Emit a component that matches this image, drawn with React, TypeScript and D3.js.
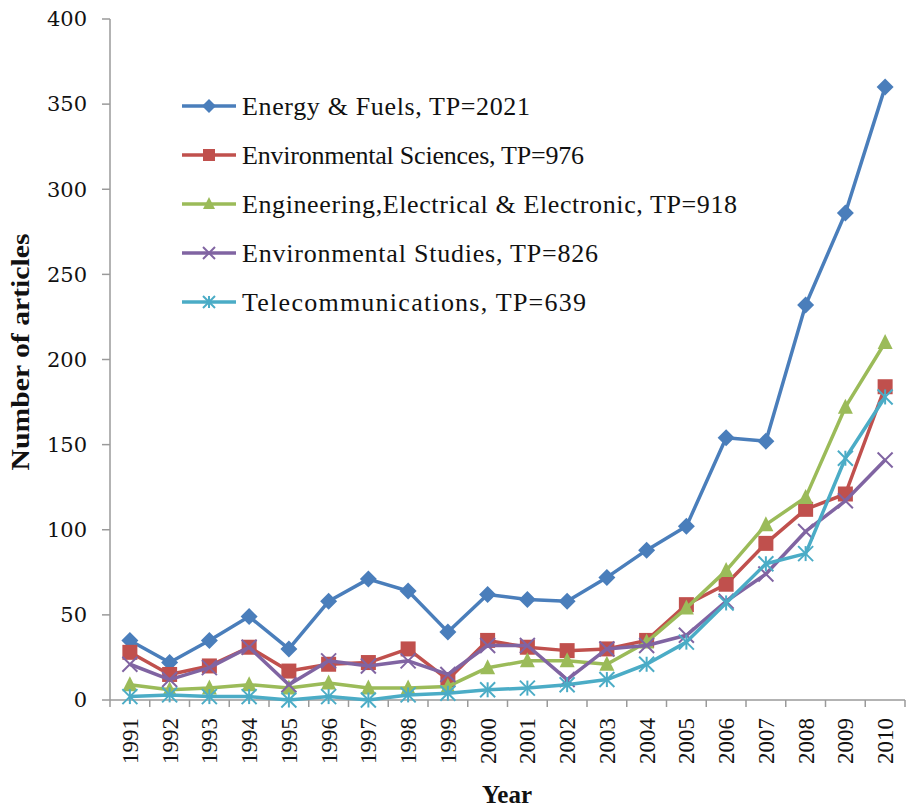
import React from "react";
import * as d3 from "d3";

const years = ["1991","1992","1993","1994","1995","1996","1997","1998","1999","2000","2001","2002","2003","2004","2005","2006","2007","2008","2009","2010"];
const energy = [35,22,35,49,30,58,71,64,40,62,59,58,72,88,102,154,152,232,286,360];
const envSci = [28,15,20,31,17,21,22,30,12,35,31,29,30,35,56,68,92,112,121,184];
const engElec = [9,6,7,9,7,10,7,7,8,19,23,23,21,34,54,76,103,119,172,210];
const envStud = [21,12,19,31,9,23,20,23,15,32,32,12,30,32,38,58,74,99,117,141];
const telecom = [2,3,2,2,0,2,0,3,4,6,7,9,12,21,34,57,80,86,142,178];
const seriesNames = [
  "Energy & Fuels, TP=2021",
  "Environmental Sciences, TP=976",
  "Engineering,Electrical & Electronic, TP=918",
  "Environmental Studies, TP=826",
  "Telecommunications, TP=639",
];
const yTicks = [0,50,100,150,200,250,300,350,400];

const colors = ["#4A7EBB", "#C0504D", "#9BBB59", "#8064A2", "#4BACC6"];
const markers = ["diamond", "square", "triangle", "x", "asterisk"];
const legendWidths = [288, 342, 495, 356, 344];

function Marker({ type, x, y, color, s = 7.5 }: { type: string; x: number; y: number; color: string; s?: number }) {
  if (type === "diamond") {
    return <path d={`M${x},${y - s - 1}L${x + s + 1},${y}L${x},${y + s + 1}L${x - s - 1},${y}Z`} fill={color} />;
  }
  if (type === "square") {
    return <rect x={x - s} y={y - s} width={2 * s} height={2 * s} fill={color} />;
  }
  if (type === "triangle") {
    return <path d={`M${x},${y - s - 1}L${x + s},${y + s - 1}L${x - s},${y + s - 1}Z`} fill={color} />;
  }
  if (type === "x") {
    return (
      <g stroke={color} strokeWidth={2}>
        <line x1={x - s} y1={y - s} x2={x + s} y2={y + s} />
        <line x1={x - s} y1={y + s} x2={x + s} y2={y - s} />
      </g>
    );
  }
  return (
    <g stroke={color} strokeWidth={2}>
      <line x1={x - s} y1={y - s} x2={x + s} y2={y + s} />
      <line x1={x - s} y1={y + s} x2={x + s} y2={y - s} />
      <line x1={x} y1={y - s} x2={x} y2={y + s} />
    </g>
  );
}

export default function App() {
  const W = 912, H = 808;
  const left = 110, right = 905, top = 19, bottom = 700;
  const x = d3.scaleBand<string>().domain(years).range([left, right]);
  const y = d3.scaleLinear().domain([0, 400]).range([bottom, top]);
  const cx = (yr: string) => (x(yr) as number) + x.bandwidth() / 2;
  const data = [energy, envSci, engElec, envStud, telecom];
  const line = d3.line<number>().x((_, i) => cx(years[i])).y((d) => y(d));
  const serif = "'Liberation Serif', 'Times New Roman', serif";
  const bands = years.map((yr) => x(yr) as number).concat([right]);

  return (
    <svg width={W} height={H} style={{ position: "absolute", left: 0, top: 0, background: "#fff" }}>
      <rect width={W} height={H} fill="#fff" />
      <line x1={left} y1={top} x2={left} y2={bottom} stroke="#9a9a9a" strokeWidth={1.5} />
      <line x1={left} y1={bottom} x2={right} y2={bottom} stroke="#9a9a9a" strokeWidth={1.5} />
      {yTicks.map((t) => (
        <g key={t}>
          <line x1={left - 8} x2={left} y1={y(t)} y2={y(t)} stroke="#9a9a9a" strokeWidth={1.5} />
          <text x={87} y={y(t)} dy="0.35em" textAnchor="end" fontFamily="'DejaVu Serif', serif" fontSize={21} fill="#111">
            {t}
          </text>
        </g>
      ))}
      {bands.map((b, i) => (
        <line key={i} x1={b} x2={b} y1={bottom} y2={bottom + 7} stroke="#9a9a9a" strokeWidth={1.5} />
      ))}
      {years.map((yr) => (
        <text
          key={yr}
          transform={`translate(${cx(yr) + 8},${718}) rotate(-90)`}
          textAnchor="end"
          fontFamily={serif}
          fontSize={23}
          fill="#111"
        >
          {yr}
        </text>
      ))}
      <text x={507} y={803} textAnchor="middle" fontFamily={serif} fontWeight="bold" fontSize={25} fill="#111">
        Year
      </text>
      <text
        transform={`translate(29,352) rotate(-90)`}
        textAnchor="middle"
        fontFamily={serif}
        fontWeight="bold"
        fontSize={25}
        fill="#111"
        textLength={237}
        lengthAdjust="spacingAndGlyphs"
      >
        Number of articles
      </text>
      {data.map((vals, si) => (
        <g key={si}>
          <path d={line(vals) || ""} fill="none" stroke={colors[si]} strokeWidth={3.5} strokeLinejoin="round" />
          {vals.map((v, i) => (
            <Marker key={i} type={markers[si]} x={cx(years[i])} y={y(v)} color={colors[si]} />
          ))}
        </g>
      ))}
      {seriesNames.map((name, i) => {
        const ly = 106 + i * 49;
        return (
          <g key={name}>
            <line x1={182} x2={236} y1={ly} y2={ly} stroke={colors[i]} strokeWidth={3.5} />
            <Marker type={markers[i]} x={209} y={ly} color={colors[i]} s={6} />
            <text
              x={242}
              y={ly + 9}
              fontFamily={serif}
              fontSize={26}
              fill="#111"
              textLength={legendWidths[i]}
              lengthAdjust="spacing"
            >
              {name}
            </text>
          </g>
        );
      })}
    </svg>
  );
}
